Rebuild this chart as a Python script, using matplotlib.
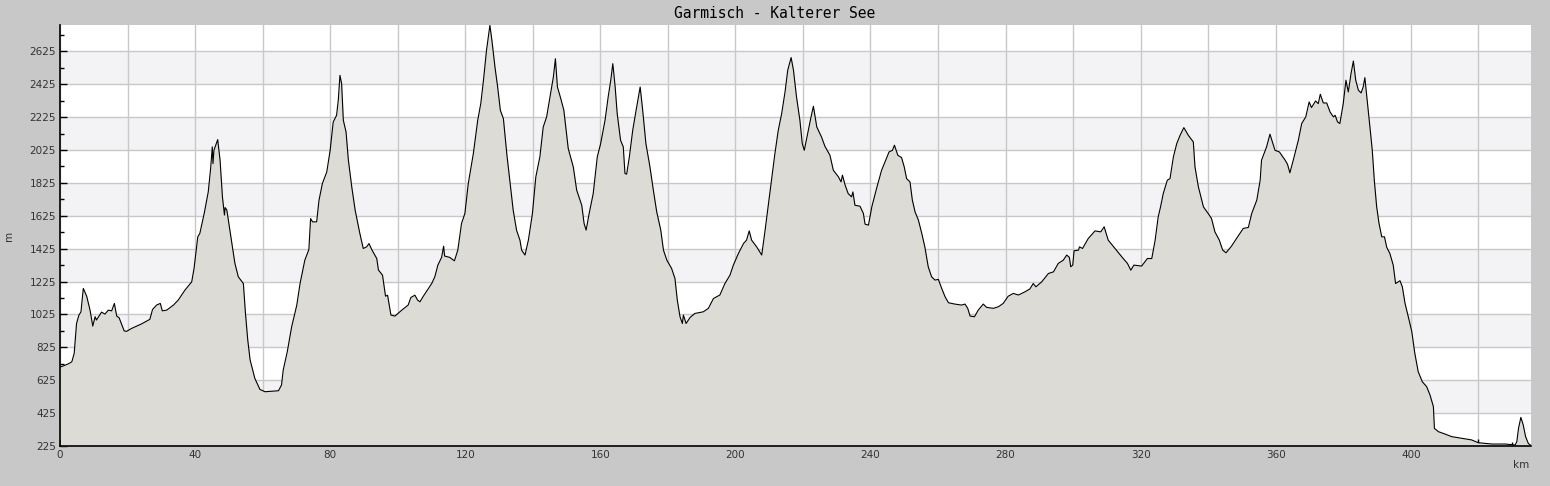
from __future__ import annotations

import numpy as np
from matplotlib import pyplot as plt
from matplotlib.ticker import FuncFormatter, MultipleLocator

TITLE = 'Garmisch - Kalterer See'

# elevation profile (km along route, metres above sea level)
distance_km = [
    0.0, 1.0, 2.5, 3.5, 4.2, 4.9, 5.6, 6.2, 6.9, 7.9, 8.9, 9.7, 10.4, 10.8, 12.3, 13.3,
    14.3, 15.3, 16.1, 16.8, 17.5, 19.0, 19.7, 21.2, 24.0, 26.6, 27.4, 28.6, 29.7, 30.3,
    31.6, 33.6, 35.0, 37.0, 39.0, 39.7, 40.8, 41.4, 42.7, 43.9, 44.6, 45.1, 45.3, 45.6,
    46.7, 47.4, 48.1, 48.7, 48.9, 49.4, 50.6, 51.8, 52.8, 54.3, 54.9, 55.6, 56.3, 57.7,
    59.2, 60.7, 62.5, 64.7, 65.6, 66.1, 67.3, 68.6, 70.1, 71.1, 72.5, 73.7, 74.2, 74.8,
    76.0, 76.7, 77.7, 79.0, 80.0, 80.9, 81.9, 82.4, 82.9, 83.4, 83.9, 84.7, 85.4, 86.4,
    87.4, 88.8, 89.8, 90.8, 91.5, 92.3, 93.8, 94.3, 95.5, 96.4, 97.0, 98.0, 99.2, 101.2,
    103.1, 103.9, 105.1, 105.9, 106.6, 107.6, 108.9, 110.1, 111.0, 111.9, 113.0, 113.6,
    113.9, 115.4, 116.8, 117.8, 118.9, 119.9, 120.9, 122.4, 123.7, 124.6, 125.4, 126.3,
    127.3, 127.9, 128.8, 129.6, 130.4, 131.3, 132.3, 133.3, 134.2, 135.2, 136.2, 136.7,
    137.7, 138.7, 139.9, 140.9, 142.1, 143.1, 144.1, 145.1, 146.1, 146.7, 147.3, 148.3,
    149.2, 150.5, 152.0, 153.0, 154.5, 155.2, 155.8, 156.7, 157.9, 159.1, 160.1, 161.4,
    162.4, 163.1, 163.7, 164.4, 165.0, 166.0, 166.8, 167.3, 167.8, 168.6, 169.6, 170.6,
    171.8, 172.5, 173.5, 174.7, 175.7, 176.7, 177.9, 178.7, 179.7, 181.1, 182.1, 182.8,
    183.6, 184.3, 184.6, 185.4, 186.6, 188.0, 190.5, 192.0, 193.5, 195.4, 196.9, 198.4,
    199.4, 200.9, 202.4, 203.3, 204.1, 204.8, 206.3, 207.8, 208.8, 210.3, 211.7, 212.7,
    213.7, 214.7, 215.5, 216.5, 217.2, 218.1, 219.1, 219.8, 220.4, 221.4, 222.4, 223.1,
    224.1, 225.5, 226.5, 228.0, 229.0, 230.5, 231.3, 231.7, 232.5, 233.4, 234.4, 234.8,
    235.4, 236.9, 237.9, 238.4, 239.4, 240.4, 241.8, 243.3, 244.3, 245.5, 246.5, 247.1,
    248.1, 249.2, 250.0, 250.7, 251.7, 252.4, 253.2, 254.2, 255.2, 256.1, 257.1, 258.1,
    259.1, 260.1, 261.1, 262.1, 263.1, 265.0, 267.0, 268.0, 268.8, 269.5, 270.8, 271.9,
    273.4, 274.4, 276.4, 277.9, 279.3, 280.8, 282.3, 283.8, 285.8, 287.2, 288.2, 289.0,
    290.7, 292.7, 294.2, 295.6, 297.1, 298.1, 298.9, 299.3, 299.9, 300.3, 301.6, 301.9,
    302.8, 304.5, 306.5, 308.2, 309.2, 310.4, 312.4, 314.4, 316.1, 317.1, 318.0, 320.3,
    322.0, 323.3, 324.3, 325.2, 325.9, 326.7, 327.9, 328.7, 329.7, 330.7, 331.7, 332.8,
    334.1, 335.6, 336.1, 337.1, 338.6, 340.0, 341.0, 342.0, 343.3, 344.3, 345.3, 346.9,
    348.4, 350.4, 351.9, 352.9, 354.4, 355.4, 355.8, 357.3, 358.3, 359.8, 361.1, 362.8,
    363.5, 364.2, 365.2, 366.7, 367.7, 368.9, 369.9, 370.6, 371.8, 372.6, 373.2, 374.1,
    375.1, 376.1, 377.1, 377.6, 378.3, 379.0, 380.0, 380.8, 381.5, 382.3, 383.0, 383.7,
    384.5, 385.3, 385.9, 386.4, 387.2, 387.9, 388.6, 389.2, 389.9, 390.6, 391.4, 392.2,
    392.9, 393.8, 394.8, 395.5, 396.8, 397.5, 398.3, 399.5, 400.3, 401.2, 402.2, 403.4,
    404.7, 405.7, 406.7, 407.0, 408.2, 410.1, 412.1, 415.1, 418.0, 420.0, 424.0, 427.9,
    430.9, 431.4, 431.9, 432.6, 433.3, 434.0, 434.8, 435.4,
]
elevation_m = [
    705, 712, 725, 737, 788, 970, 1021, 1040, 1183, 1136, 1051, 954, 1011, 991, 1039, 1027,
    1051, 1047, 1092, 1015, 1005, 925, 922, 940, 966, 995, 1055, 1082, 1092, 1047,
    1051, 1082, 1112, 1173, 1223, 1305, 1497, 1517, 1639, 1770, 1912, 2044, 1942, 2024,
    2088, 1963, 1740, 1629, 1675, 1660, 1497, 1335, 1254, 1213, 1037, 869, 748, 636,
    569, 555, 558, 561, 596, 687, 798, 950, 1080, 1214, 1355, 1420, 1608, 1588,
    1588, 1720, 1821, 1892, 2023, 2195, 2236, 2327, 2479, 2428, 2206, 2135, 1963, 1800,
    1659, 1517, 1426, 1436, 1456, 1420, 1365, 1295, 1264, 1136, 1142, 1021, 1015, 1051,
    1082, 1128, 1142, 1112, 1102, 1136, 1177, 1214, 1254, 1325, 1372, 1440,
    1380, 1372, 1351, 1416, 1578, 1639, 1821, 2003, 2206, 2307, 2449, 2631,
    2783, 2692, 2530, 2408, 2266, 2216, 2003, 1821, 1659, 1537, 1477, 1416,
    1386, 1477, 1639, 1861, 1983, 2165, 2226, 2348, 2469, 2580, 2408, 2337,
    2267, 2034, 1922, 1781, 1689, 1578, 1538, 1639, 1760, 1983, 2064, 2206,
    2358, 2449, 2550, 2408, 2246, 2084, 2044, 1882, 1878, 1983, 2145, 2267,
    2408, 2277, 2064, 1922, 1781, 1649, 1538, 1416, 1355, 1305, 1244, 1112,
    1011, 970, 1021, 970, 1007, 1031, 1041, 1062, 1122, 1143, 1213, 1264,
    1325, 1396, 1456, 1477, 1533, 1477, 1436, 1386, 1538, 1781, 2003, 2145,
    2246, 2378, 2510, 2587, 2510, 2348, 2206, 2064, 2023, 2125, 2226, 2291,
    2165, 2104, 2048, 1993, 1902, 1862, 1831, 1872, 1811, 1760, 1740, 1770,
    1689, 1683, 1639, 1574, 1568, 1679, 1791, 1902, 1953, 2013, 2023, 2054,
    1993, 1979, 1922, 1851, 1831, 1720, 1649, 1598, 1517, 1436, 1315, 1254,
    1234, 1238, 1183, 1132, 1096, 1088, 1082, 1088, 1062, 1015, 1011, 1051,
    1088, 1068, 1062, 1072, 1092, 1136, 1153, 1143, 1163, 1180, 1213, 1193,
    1223, 1274, 1284, 1335, 1355, 1386, 1372, 1315, 1325, 1412, 1416, 1436,
    1426, 1487, 1533, 1527, 1558, 1477, 1426, 1376, 1335, 1294, 1325, 1319,
    1365, 1365, 1477, 1618, 1679, 1760, 1841, 1851, 1983, 2064, 2115, 2161,
    2115, 2074, 1922, 1801, 1679, 1639, 1608, 1527, 1477, 1416, 1400, 1440,
    1487, 1548, 1554, 1639, 1720, 1841, 1963, 2044, 2121, 2023, 2013, 1963,
    1938, 1886, 1963, 2084, 2186, 2226, 2317, 2283, 2323, 2307, 2364, 2311,
    2311, 2256, 2226, 2236, 2196, 2186, 2307, 2449, 2378, 2489, 2566, 2449,
    2388, 2372, 2408, 2465, 2307, 2165, 2023, 1841, 1679, 1578, 1497, 1497,
    1432, 1396, 1325, 1213, 1230, 1193, 1092, 991, 920, 788, 677, 616,
    586, 535, 464, 332, 312, 298, 282, 272, 262, 245, 237, 237,
    231, 251, 332, 399, 353, 282, 241, 231,
]

Y_MIN, Y_MAX = 225, 2785
Y_STEP = 200
X_MAX = 435.6

BG = '#c8c8c8'
BAND = '#f3f2f5'
FILL = '#dcdbd6'
GRID = '#c8c8c8'


def plot_profile(out: str = 'out.png') -> None:
    fig = plt.figure(figsize=(15.5, 4.86), dpi=100, facecolor=BG)
    ax = fig.add_axes([60 / 1550, 40 / 486, 1471 / 1550, 421 / 486])
    ax.set_facecolor('white')

    # alternating shaded bands between the y gridlines
    for lo in np.arange(Y_MIN + Y_STEP, Y_MAX, 2 * Y_STEP):
        ax.axhspan(lo, lo + Y_STEP, color=BAND, lw=0, zorder=0)

    x = np.asarray(distance_km)
    y = np.asarray(elevation_m)
    ax.fill_between(x, y, Y_MIN, color=FILL, lw=0, zorder=2)
    ax.plot(x, y, color='black', lw=0.8, zorder=3)

    ax.set_xlim(0, X_MAX)
    ax.set_ylim(Y_MIN, Y_MAX)

    ax.xaxis.set_major_locator(MultipleLocator(20))
    ax.xaxis.set_minor_locator(MultipleLocator(10))
    ax.xaxis.set_major_formatter(FuncFormatter(lambda v, _: f'{v:.0f}' if v % 40 == 0 else ''))
    ax.set_yticks(np.arange(Y_MIN, Y_MAX, Y_STEP))
    ax.set_yticks(np.arange(Y_MIN + Y_STEP / 2, Y_MAX, Y_STEP), minor=True)

    ax.grid(True, which='major', color=GRID, lw=1.0, zorder=1)
    ax.set_axisbelow(True)

    ax.tick_params(which='both', direction='in', colors='black', labelcolor='#333333',
                   labelsize=7.5, width=1)
    ax.tick_params(which='major', length=5, pad=3)
    ax.tick_params(which='minor', length=3)

    for side in ('top', 'right'):
        ax.spines[side].set_visible(False)
    for side in ('left', 'bottom'):
        ax.spines[side].set_linewidth(1.2)
        ax.spines[side].set_zorder(5)

    ax.set_ylabel('m', fontsize=7.5, color='#333333')
    ax.yaxis.set_label_coords(-0.031, 0.5)
    fig.text(1521 / 1550, 1 - 465 / 486, 'km', fontsize=7.5, color='#333333',
             ha='center', va='center')
    fig.text(0.5, 1 - 14 / 486, TITLE, family='DejaVu Sans Mono', fontsize=10.5,
             color='black', ha='center', va='center')

    fig.savefig(out, dpi=100, facecolor=BG)


if __name__ == '__main__':
    plot_profile()
